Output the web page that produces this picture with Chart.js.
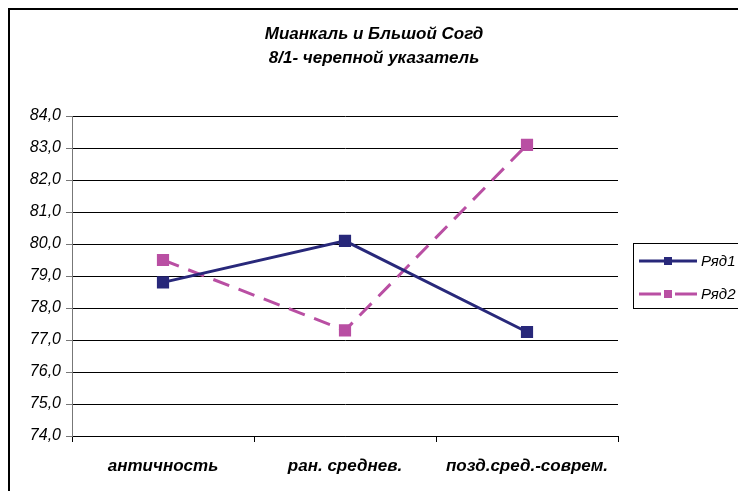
<!DOCTYPE html>
<html>
<head>
<meta charset="utf-8">
<script src="https://cdn.jsdelivr.net/npm/chart.js@4"></script>
<style>
  html, body { margin: 0; padding: 0; background: #fff; }
  #wrap { width: 738px; height: 491px; position: relative; }
</style>
</head>
<body>
<div id="wrap"><canvas id="c" width="738" height="491"></canvas></div>
<script>
// data
const categories = ['античность', 'ран. среднев.', 'позд.сред.-соврем.'];
const series1 = [78.8, 80.1, 77.25];
const series2 = [79.5, 77.3, 83.1];
const seriesNames = ['Ряд1', 'Ряд2'];
const titleLines = ['Мианкаль и Бльшой Согд', '8/1- черепной указатель'];
const yMin = 74, yMax = 84, yStep = 1;

const NAVY = '#28287a';
const PINK = '#b94fa3';
const FONT = "'Liberation Sans', Arial, sans-serif";

// frame, title and the clipped legend box
const decor = {
  id: 'decor',
  afterDraw(chart) {
    const ctx = chart.ctx;
    ctx.save();
    // outer frame
    ctx.strokeStyle = '#000';
    ctx.lineWidth = 2;
    ctx.beginPath();
    ctx.moveTo(9, 491);
    ctx.lineTo(9, 9);
    ctx.lineTo(740, 9);
    ctx.stroke();

    // title
    ctx.fillStyle = '#000';
    ctx.font = `italic bold 17px ${FONT}`;
    ctx.textAlign = 'center';
    ctx.textBaseline = 'middle';
    ctx.fillText(titleLines[0], 374, 34);
    ctx.fillText(titleLines[1], 374, 58);

    // legend
    ctx.strokeStyle = '#000';
    ctx.lineWidth = 1;
    ctx.strokeRect(633.5, 243.5, 120, 65);
    const rows = [
      { y: 261, color: NAVY },
      { y: 294, color: PINK }
    ];
    rows.forEach((r, i) => {
      ctx.strokeStyle = r.color;
      ctx.lineWidth = 3;
      ctx.beginPath();
      if (i === 1) {
        ctx.moveTo(639, r.y); ctx.lineTo(661, r.y);
        ctx.moveTo(675, r.y); ctx.lineTo(697, r.y);
      } else {
        ctx.moveTo(639, r.y); ctx.lineTo(697, r.y);
      }
      ctx.stroke();
      ctx.fillStyle = r.color;
      ctx.fillRect(664, r.y - 4, 8, 8);
      ctx.fillStyle = '#000';
      ctx.font = `italic 15px ${FONT}`;
      ctx.textAlign = 'left';
      ctx.fillText(seriesNames[i], 701, r.y + 1);
    });
    ctx.restore();
  }
};

new Chart(document.getElementById('c'), {
  type: 'line',
  data: {
    labels: categories,
    datasets: [
      {
        label: seriesNames[0],
        data: series1,
        borderColor: NAVY,
        backgroundColor: NAVY,
        borderWidth: 3,
        pointStyle: 'rect',
        pointRadius: 6.5,
        pointHoverRadius: 6.5,
        tension: 0,
      },
      {
        label: seriesNames[1],
        data: series2,
        borderColor: PINK,
        backgroundColor: PINK,
        borderWidth: 3,
        borderDash: [17, 10],
        pointStyle: 'rect',
        pointRadius: 6.5,
        pointHoverRadius: 6.5,
        tension: 0,
      },
    ],
  },
  options: {
    responsive: false,
    animation: false,
    layout: { padding: { left: 10, right: 120, top: 116, bottom: 0 } },
    plugins: {
      legend: { display: false },
      title: { display: false },
      tooltip: { enabled: false },
    },
    scales: {
      x: {
        offset: true,
        afterFit: (s) => { s.height = 55; },
        grid: { offset: true, drawOnChartArea: false, drawTicks: true, tickLength: 6, color: '#000' },
        border: { color: '#000', width: 1 },
        ticks: { color: '#000', padding: 14, font: { family: FONT, size: 17, style: 'italic', weight: 'bold' } },
      },
      y: {
        min: yMin,
        max: yMax,
        afterFit: (s) => { s.width = 62; },
        grid: { color: '#000', lineWidth: 1, tickLength: 6, tickColor: '#777' },
        border: { color: '#777', width: 1 },
        ticks: {
          stepSize: yStep,
          color: '#000',
          padding: 5,
          font: { family: FONT, size: 16, style: 'italic' },
          callback: (v) => v.toFixed(1).replace('.', ','),
        },
      },
    },
  },
  plugins: [decor],
});
</script>
</body>
</html>
